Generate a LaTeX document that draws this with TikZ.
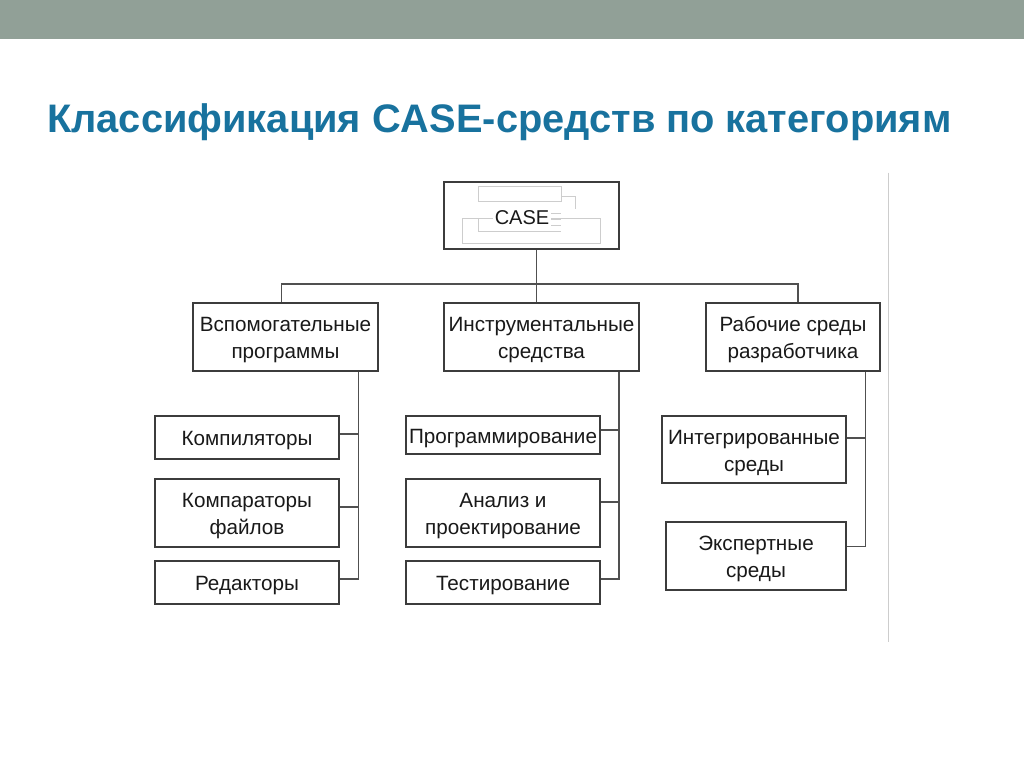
\documentclass[tikz,border=0pt]{standalone}
\usepackage{fontspec}
\setmainfont{Liberation Sans}
\definecolor{barcol}{RGB}{145,160,151}
\definecolor{titlecol}{RGB}{24,114,158}
\definecolor{boxline}{RGB}{60,60,60}
\definecolor{connline}{RGB}{80,80,80}
\definecolor{ghost}{RGB}{205,205,205}
\definecolor{txt}{RGB}{25,25,25}
\newcommand\boxtext[1]{\raisebox{-2pt}[\height][\depth]{\begin{tabular}{@{}c@{}}#1\end{tabular}}}
\renewcommand\arraystretch{1.04}
\tikzset{
  box/.style={draw=boxline, line width=1.4pt, fill=white, inner sep=0pt,
    text=txt, font=\fontsize{15.5}{19.5}\selectfont},
  conn/.style={draw=connline, line width=1.1pt},
  ghostline/.style={draw=ghost, line width=0.55pt},
}
\begin{document}
\begin{tikzpicture}[x=0.75pt,y=-0.75pt]
\useasboundingbox (0,0) rectangle (1024,767);
\fill[white] (0,0) rectangle (1024,767);
\fill[barcol] (0,0) rectangle (1024,39);
\draw[ghost, line width=0.7pt] (888.3,172.7) -- (888.3,641.7);

\node[anchor=base west, text=titlecol, font=\fontsize{29.85}{34}\selectfont\bfseries, inner sep=0pt]
  (title) at (47,132.7) {Классификация CASE-средств по категориям};

% root
\node[box, minimum width=131.25pt, minimum height=50.25pt] (case) at (531.5,215.5) {};
\draw[ghostline] (478,186) rectangle (561,201);
\draw[ghostline] (561,196.5) -- (575,196.5) -- (575,209);
\draw[ghostline] (462,218) rectangle (600,243);
\draw[ghostline] (478,218) -- (478,231.5) -- (561,231.5);
\draw[ghostline] (551,213) -- (561,213) (551,219) -- (561,219) (551,225) -- (561,225);
\node[text=txt, font=\fontsize{15}{19}\selectfont, inner sep=0pt, fill=white, inner xsep=1pt] (casetxt) at (522,218) {CASE};

% level 1
\node[box, minimum width=138.75pt, minimum height=51pt] (vsp) at (285.5,337) {\boxtext{Вспомогательные\\программы}};
\node[box, minimum width=146.25pt, minimum height=51pt] (ins) at (541.5,337) {\boxtext{Инструментальные\\средства}};
\node[box, minimum width=130.5pt, minimum height=51pt] (rab) at (793,337) {\boxtext{Рабочие среды\\разработчика}};

% level 2 left
\node[box, minimum width=138pt, minimum height=32.25pt] (kom) at (247,437.5) {\boxtext{Компиляторы}};
\node[box, minimum width=138pt, minimum height=51pt] (kmp) at (247,513) {\boxtext{Компараторы\\файлов}};
\node[box, minimum width=138pt, minimum height=32.25pt] (red) at (247,582.5) {\boxtext{Редакторы}};

% level 2 middle
\node[box, minimum width=145.5pt, minimum height=28.5pt] (prg) at (503,435) {\boxtext{Программирование}};
\node[box, minimum width=145.5pt, minimum height=51pt] (ana) at (503,513) {\boxtext{Анализ и\\проектирование}};
\node[box, minimum width=145.5pt, minimum height=32.25pt] (tst) at (503,582.5) {\boxtext{Тестирование}};

% level 2 right
\node[box, minimum width=138pt, minimum height=50.25pt] (int) at (754,449.5) {\boxtext{Интегрированные\\среды}};
\node[box, minimum width=135pt, minimum height=51pt] (eks) at (756,556) {\boxtext{Экспертные\\среды}};

% bus
\coordinate (bus) at (536.7,284);
\coordinate (busL) at (281.5,284);
\coordinate (busR) at (798,284);
\draw[conn] (case.south -| bus) -- (ins.north -| bus);
\draw[conn] (vsp.north -| busL) -- (busL) -- (busR) -- (rab.north -| busR);

% spines
\coordinate (sL) at (358.3,0);
\coordinate (sM) at (619,0);
\coordinate (sR) at (865.7,0);
\draw[conn] (vsp.south -| sL) -- (sL |- 0,579) -- (red.east |- 0,579);
\draw[conn] (kom.east |- 0,434) -- (sL |- 0,434);
\draw[conn] (kmp.east |- 0,507) -- (sL |- 0,507);

\draw[conn] (ins.south -| sM) -- (sM |- 0,579) -- (tst.east |- 0,579);
\draw[conn] (prg.east |- 0,430) -- (sM |- 0,430);
\draw[conn] (ana.east |- 0,502) -- (sM |- 0,502);

\draw[conn] (rab.south -| sR) -- (sR |- 0,546.7) -- (eks.east |- 0,546.7);
\draw[conn] (int.east |- 0,438) -- (sR |- 0,438);
\end{tikzpicture}
\end{document}
